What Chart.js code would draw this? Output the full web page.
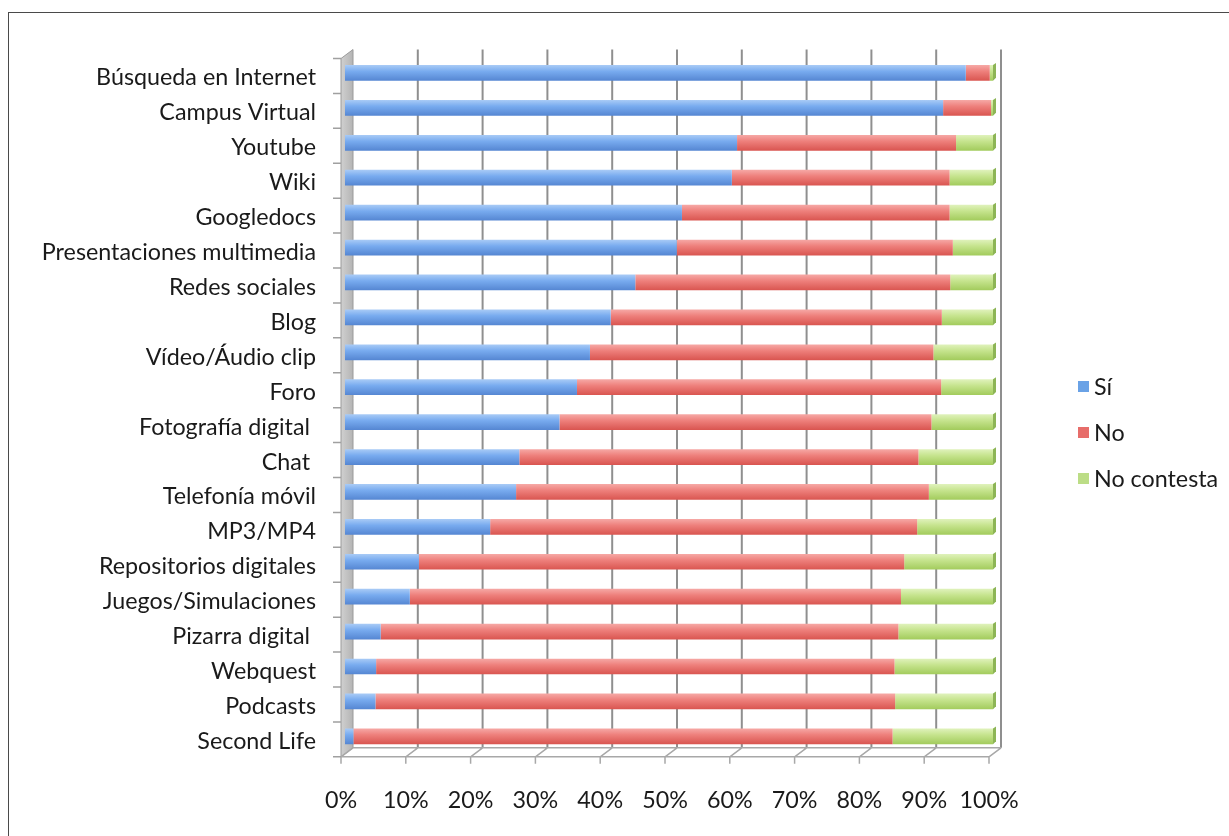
<!DOCTYPE html>
<html>
<head>
<meta charset="utf-8">
<script src="https://cdn.jsdelivr.net/npm/chart.js@4.4.1/dist/chart.umd.min.js"></script>
<style>
html,body{margin:0;padding:0;background:#fff;overflow:hidden;}
#wrap{position:relative;width:1229px;height:836px;overflow:hidden;}
#frame{position:absolute;left:8px;top:12px;right:-10px;bottom:-10px;border-left:1.5px solid #4a4a4a;border-top:1.5px solid #4a4a4a;}
canvas{position:absolute;left:0;top:0;}
</style>
</head>
<body>
<div id="wrap"><div id="frame"></div><canvas id="c" width="1229" height="836"></canvas></div>
<script>
const categories = ["Búsqueda en Internet","Campus Virtual","Youtube","Wiki","Googledocs","Presentaciones multimedia","Redes sociales","Blog","Vídeo/Áudio clip","Foro","Fotografía digital ","Chat ","Telefonía móvil","MP3/MP4","Repositorios digitales","Juegos/Simulaciones","Pizarra digital ","Webquest","Podcasts","Second Life"];
const seriesNames = ["Sí","No","No contesta"];
const si = [95.8,92.3,60.5,59.7,52.0,51.2,44.8,41.0,37.8,35.8,33.1,26.9,26.4,22.4,11.4,10.0,5.5,4.8,4.7,1.3];
const no = [3.7,7.4,33.8,33.6,41.3,42.6,48.6,51.1,53.0,56.2,57.4,61.6,63.7,65.9,74.9,75.8,79.9,80.0,80.2,83.2];
const noContesta = [0.5,0.3,5.7,6.7,6.7,6.2,6.6,7.9,9.2,8.0,9.5,11.5,9.9,11.7,13.7,14.2,14.6,15.2,15.1,15.5];
const xTicks = [0,10,20,30,40,50,60,70,80,90,100];

const FONT = "Lato";
const FSIZE = 23.3;
const BAR_PCT = 0.45;

function grad(c0, c1, c2) {
  return function(ctx) {
    const chart = ctx.chart;
    const ys = chart.scales && chart.scales.y;
    if (!ys || !isFinite(ys.height) || ctx.dataIndex === undefined) return c1;
    const yc = ys.getPixelForValue(ctx.dataIndex);
    const h = ys.height / categories.length * BAR_PCT;
    if (!isFinite(yc)) return c1;
    const g = chart.ctx.createLinearGradient(0, yc - h/2, 0, yc + h/2);
    g.addColorStop(0, c0);
    g.addColorStop(0.4, c1);
    g.addColorStop(1, c2);
    return g;
  };
}

const legendColors = ["#6aa2e6", "#e76d6a", "#bcdd86"];

const decor = {
  id: 'decor',
  beforeDatasetsDraw(chart) {
    const {ctx, chartArea: a, scales: {x, y}} = chart;
    const fdx = -4, fdy = 3, bdx = 8, bdy = -6;
    ctx.save();
    // wall
    ctx.beginPath();
    ctx.moveTo(a.left + fdx, a.top + fdy);
    ctx.lineTo(a.left + bdx, a.top + bdy);
    ctx.lineTo(a.left + bdx, a.bottom + bdy);
    ctx.lineTo(a.left + fdx, a.bottom + fdy);
    ctx.closePath();
    const wg = ctx.createLinearGradient(a.left + fdx, 0, a.left + bdx, 0);
    wg.addColorStop(0, '#d0d0d0'); wg.addColorStop(1, '#b4b4b4');
    ctx.fillStyle = wg; ctx.fill();
    ctx.strokeStyle = '#9a9a9a'; ctx.lineWidth = 1; ctx.stroke();
    // back grid lines
    ctx.strokeStyle = '#8f8f8f'; ctx.lineWidth = 2;
    xTicks.forEach(v => {
      if (v === 0) return;
      const px = x.getPixelForValue(v) + bdx;
      ctx.beginPath(); ctx.moveTo(px, a.top + bdy); ctx.lineTo(px, a.bottom + bdy); ctx.stroke();
    });
    // floor
    ctx.strokeStyle = '#a8a8a8'; ctx.lineWidth = 1.5;
    ctx.beginPath();
    ctx.moveTo(a.left + fdx, a.bottom + fdy); ctx.lineTo(a.right + fdx, a.bottom + fdy);
    ctx.moveTo(a.left + bdx, a.bottom + bdy); ctx.lineTo(a.right + bdx, a.bottom + bdy);
    xTicks.forEach(v => {
      const px = x.getPixelForValue(v);
      ctx.moveTo(px + fdx, a.bottom + fdy); ctx.lineTo(px + bdx, a.bottom + bdy);
      ctx.moveTo(px + fdx, a.bottom + fdy); ctx.lineTo(px + fdx, a.bottom + fdy + 7);
    });
    ctx.stroke();
    // y tick marks at category boundaries
    ctx.strokeStyle = '#a0a0a0'; ctx.lineWidth = 1.5;
    ctx.beginPath();
    for (let i = 0; i <= categories.length; i++) {
      const py = a.top + (a.bottom - a.top) * i / categories.length + fdy;
      ctx.moveTo(a.left + fdx - 8, py); ctx.lineTo(a.left + fdx, py);
    }
    ctx.stroke();
    ctx.restore();
  },
  afterDatasetsDraw(chart) {
    // small 3D end caps on the right end of each stacked bar
    const ctx = chart.ctx;
    const last = chart.getDatasetMeta(chart.data.datasets.length - 1);
    ctx.save();
    last.data.forEach((el) => {
      const p = el.getProps(['x', 'y', 'height'], true);
      const top = p.y - p.height / 2, bot = p.y + p.height / 2;
      ctx.beginPath();
      ctx.moveTo(p.x, top); ctx.lineTo(p.x + 3, top - 2); ctx.lineTo(p.x + 3, bot - 3); ctx.lineTo(p.x, bot);
      ctx.closePath();
      ctx.fillStyle = '#8db556'; ctx.fill();
    });
    ctx.restore();
  },
  afterDraw(chart) {
    const ctx = chart.ctx;
    ctx.save();
    ctx.font = FSIZE + "px " + FONT;
    ctx.textBaseline = 'middle';
    const ys = [386, 432, 478];
    chart.data.datasets.forEach((ds, i) => {
      ctx.fillStyle = legendColors[i];
      ctx.fillRect(1078, ys[i] - 5, 11, 11);
      ctx.fillStyle = '#1a1a1a';
      ctx.fillText(ds.label, 1094, ys[i] + 1);
    });
    ctx.restore();
  }
};

new Chart(document.getElementById('c'), {
  type: 'bar',
  data: {
    labels: categories,
    datasets: [
      { label: seriesNames[0], data: si, backgroundColor: grad('#a9cbf6', '#78abef', '#5586d2') },
      { label: seriesNames[1], data: no, backgroundColor: grad('#f6a9a6', '#ee807c', '#d95550') },
      { label: seriesNames[2], data: noContesta, backgroundColor: grad('#e0f2bc', '#c6e48e', '#a2cb5c') }
    ]
  },
  options: {
    indexAxis: 'y',
    responsive: false,
    animation: false,
    devicePixelRatio: 1,
    layout: { padding: { top: 55.5, right: 236, left: 0, bottom: 0 } },
    datasets: { bar: { barPercentage: BAR_PCT, categoryPercentage: 1, borderWidth: 0 } },
    plugins: { legend: { display: false }, tooltip: { enabled: false } },
    scales: {
      x: {
        stacked: true, min: 0, max: 100,
        afterFit(s) { s.height = 836 - 753.8; },
        afterBuildTicks(s) { s.ticks = xTicks.map(v => ({ value: v })); },
        grid: { display: false, drawTicks: false },
        border: { display: false },
        ticks: { font: { family: FONT, size: FSIZE }, color: '#1a1a1a', padding: 33, labelOffset: -4, maxRotation: 0,
          callback: v => v + '%' }
      },
      y: {
        stacked: true,
        afterFit(s) { s.width = 345; },
        grid: { display: false, drawTicks: false },
        border: { display: false },
        ticks: { font: { family: FONT, size: FSIZE }, color: '#1a1a1a', padding: 29, labelOffset: 5, autoSkip: false }
      }
    }
  },
  plugins: [decor]
});
</script>
</body>
</html>
